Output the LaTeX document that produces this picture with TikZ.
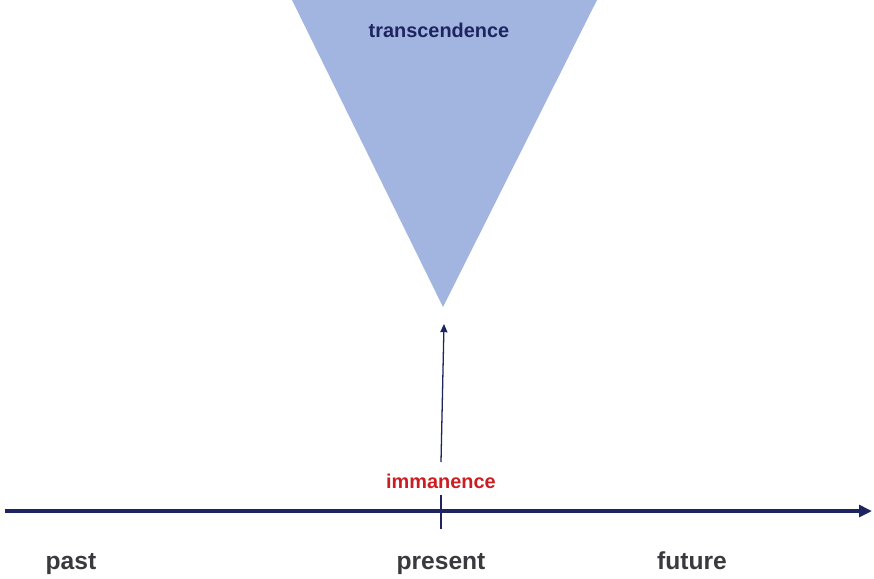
\documentclass[tikz,border=0pt]{standalone}
\usepackage{fontspec}
\setmainfont{Liberation Sans}
\usetikzlibrary{arrows.meta}

\definecolor{conebl}{RGB}{162,181,225}
\definecolor{navy}{RGB}{30,36,96}
\definecolor{immred}{RGB}{204,30,34}
\definecolor{labgray}{RGB}{58,58,62}

\begin{document}
\begin{tikzpicture}[x=0.03cm,y=-0.03cm]

      \useasboundingbox (0,0) rectangle (874,578);

      % the cone
      \coordinate (tl) at (292,0);
      \coordinate (tr) at (597,0);
      \coordinate (apex) at (443,307);
      \fill[conebl] (tl) -- (tr) -- (apex) -- cycle;

      % time line
      \coordinate (start) at (5,511);
      \coordinate (end) at (872,511);
      \coordinate (ticktop) at (441,495);
      \coordinate (tickbot) at (441,529);
      \draw[navy,line width=2.6pt,-{Triangle[length=11pt,width=10pt]}] (start) -- (end);
      \draw[navy,line width=1.8pt] (ticktop) -- (tickbot);

      % rising arrow
      \coordinate (up0) at (441,462);
      \coordinate (up1) at (444,324);
      \draw[navy,line width=1.1pt,-{Triangle[length=7pt,width=6pt]}] (up0) -- (up1);

      \begin{scope}[every node/.style={font=\bfseries\fontsize{17}{17}\selectfont}]
        \node[navy] (trans) at (439,30) {transcendence};
        \node[immred] (imm) at (441,481) {immanence};
      \end{scope}

      \begin{scope}[every node/.style={labgray,anchor=base,font=\bfseries\fontsize{21}{21}\selectfont}]
        \node (past) at (71,569) {past};
        \node (present) at (441,569) {present};
        \node (future) at (692,569) {future};
      \end{scope}

    \end{tikzpicture}
\end{document}
